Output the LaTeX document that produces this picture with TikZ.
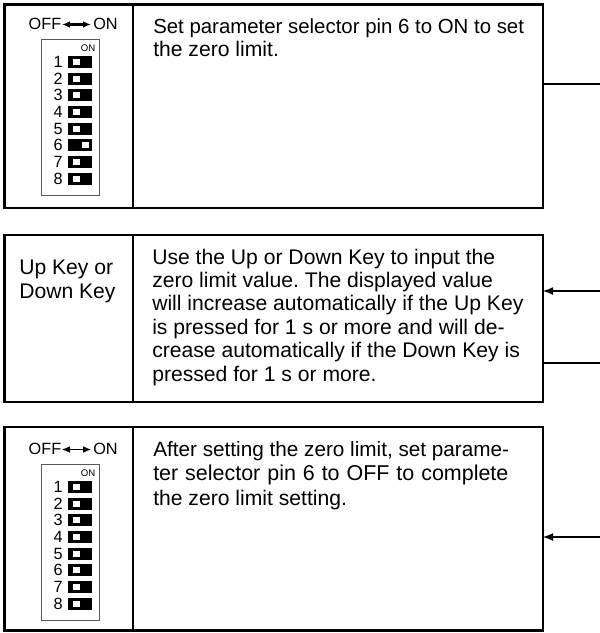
\documentclass[tikz,border=0pt]{standalone}
\usepackage{fontspec}
\setmainfont{Liberation Sans}
\frenchspacing
\usetikzlibrary{arrows.meta,calc}
\tikzset{x=0.75pt,y=-0.75pt,
 box/.style={draw=black,line width=1.6pt,fill=white},
 lead/.style={draw=black,line width=1.3pt},
 txt/.style={anchor=north west,inner sep=0pt,align=left,font=\fontsize{15.85pt}{17.55pt}\selectfont},
 txtb/.style={txt,font=\fontsize{15.85pt}{18.3pt}\selectfont},
 off/.style={inner sep=0pt,font=\fontsize{12.2pt}{12pt}\selectfont},
 num/.style={inner sep=0pt,anchor=east,font=\fontsize{12.2pt}{12pt}\selectfont},
 onl/.style={inner sep=0pt,font=\fontsize{7.2pt}{8pt}\selectfont},
 panel/.style={draw=black!65,line width=0.5pt,fill=white},
 sw/.style={fill=black,draw=none},
 knob/.style={fill=white,draw=none},
 tip/.style={-{Latex[length=8pt,width=6pt]}}
}
\newcommand{\sline}[3]{\hbox{\fontsize{#1}{#1}\selectfont\spaceskip=#2\relax #3}}
\newcommand{\swstack}[3]{% y-offset, on pin, arrow thickness
 \begin{scope}[shift={(0,#1)}]
 \node[off,anchor=east] (offl#1) at (61.5,24) {OFF};
 \node[off,anchor=west] (onl#1) at (93,24) {ON};
 \draw[line width=#3,{Latex[length=6pt,width=5pt]}-{Latex[length=6pt,width=5pt]}] ($(offl#1.east)+(0.5,0.5)$) -- ($(onl#1.west)+(-2,0.5)$);
 \draw[panel] (41.5,39.5) rectangle (99.5,195.5);
 \node[onl] (onp#1) at (88,48) {ON};
 \foreach \n/\y in {1/61.5,2/78.5,3/95,4/112,5/128.5,6/145,7/162,8/178.5}{
   \node[num] (n\n#1) at (63,\y) {\n};
   \fill[sw] (68,\y-6) rectangle (92,\y+6);
   \ifnum\n=#2\relax \fill[knob] (81.5,\y-3) rectangle (88.5,\y+3);
   \else \fill[knob] (73,\y-3) rectangle (80,\y+3); \fi
 }
 \end{scope}}
\begin{document}
\begin{tikzpicture}
\useasboundingbox (0,0) rectangle (600,633);
\fill[white] (0,0) rectangle (600,633);
% boxes
\draw[box] (4.5,4.5) rectangle (543,208);
\draw[box] (133,4.5) -- (133,208);
\draw[box] (4.5,235) rectangle (543,402);
\draw[box] (133,235) -- (133,402);
\draw[box] (4.5,427) rectangle (543,630.5);
\draw[box] (133,427) -- (133,630.5);
% leader lines
\coordinate (a1) at (600,84);
\coordinate (a2) at (600,291);
\coordinate (a3) at (600,363);
\coordinate (a4) at (600,537);
\coordinate (b1) at (544,84);
\coordinate (b2) at (542.5,291);
\coordinate (b3) at (544,363);
\coordinate (b4) at (542.5,537);
\draw[lead] (a1) -- (b1);
\draw[lead,tip] (a2) -- (b2);
\draw[lead] (a3) -- (b3);
\draw[lead,tip] (a4) -- (b4);
\node[txt] (t1) at (153,18.5) {\sline{15.3pt}{4.25pt}{Set parameter selector pin 6 to ON to set}\\the zero limit.};
\node[txt] (k) at (19,260) {Up Key or\\Down Key};
\node[txt] (t2) at (152,248.5) {Use the Up or Down Key to input the\\zero limit value. The displayed value\\will increase automatically if the Up Key\\is pressed for 1 s or more and will de-\\crease automatically if the Down Key is\\pressed for 1 s or more.};
\node[txtb] (t3) at (153,441) {\sline{15.55pt}{4.3pt}{After setting the zero limit, set parame-}\\\sline{16.1pt}{5.2pt}{ter selector pin 6 to OFF to complete}\\the zero limit setting.};
\swstack{0}{6}{1.6pt}
\swstack{425}{0}{0.6pt}
\end{tikzpicture}
\end{document}
